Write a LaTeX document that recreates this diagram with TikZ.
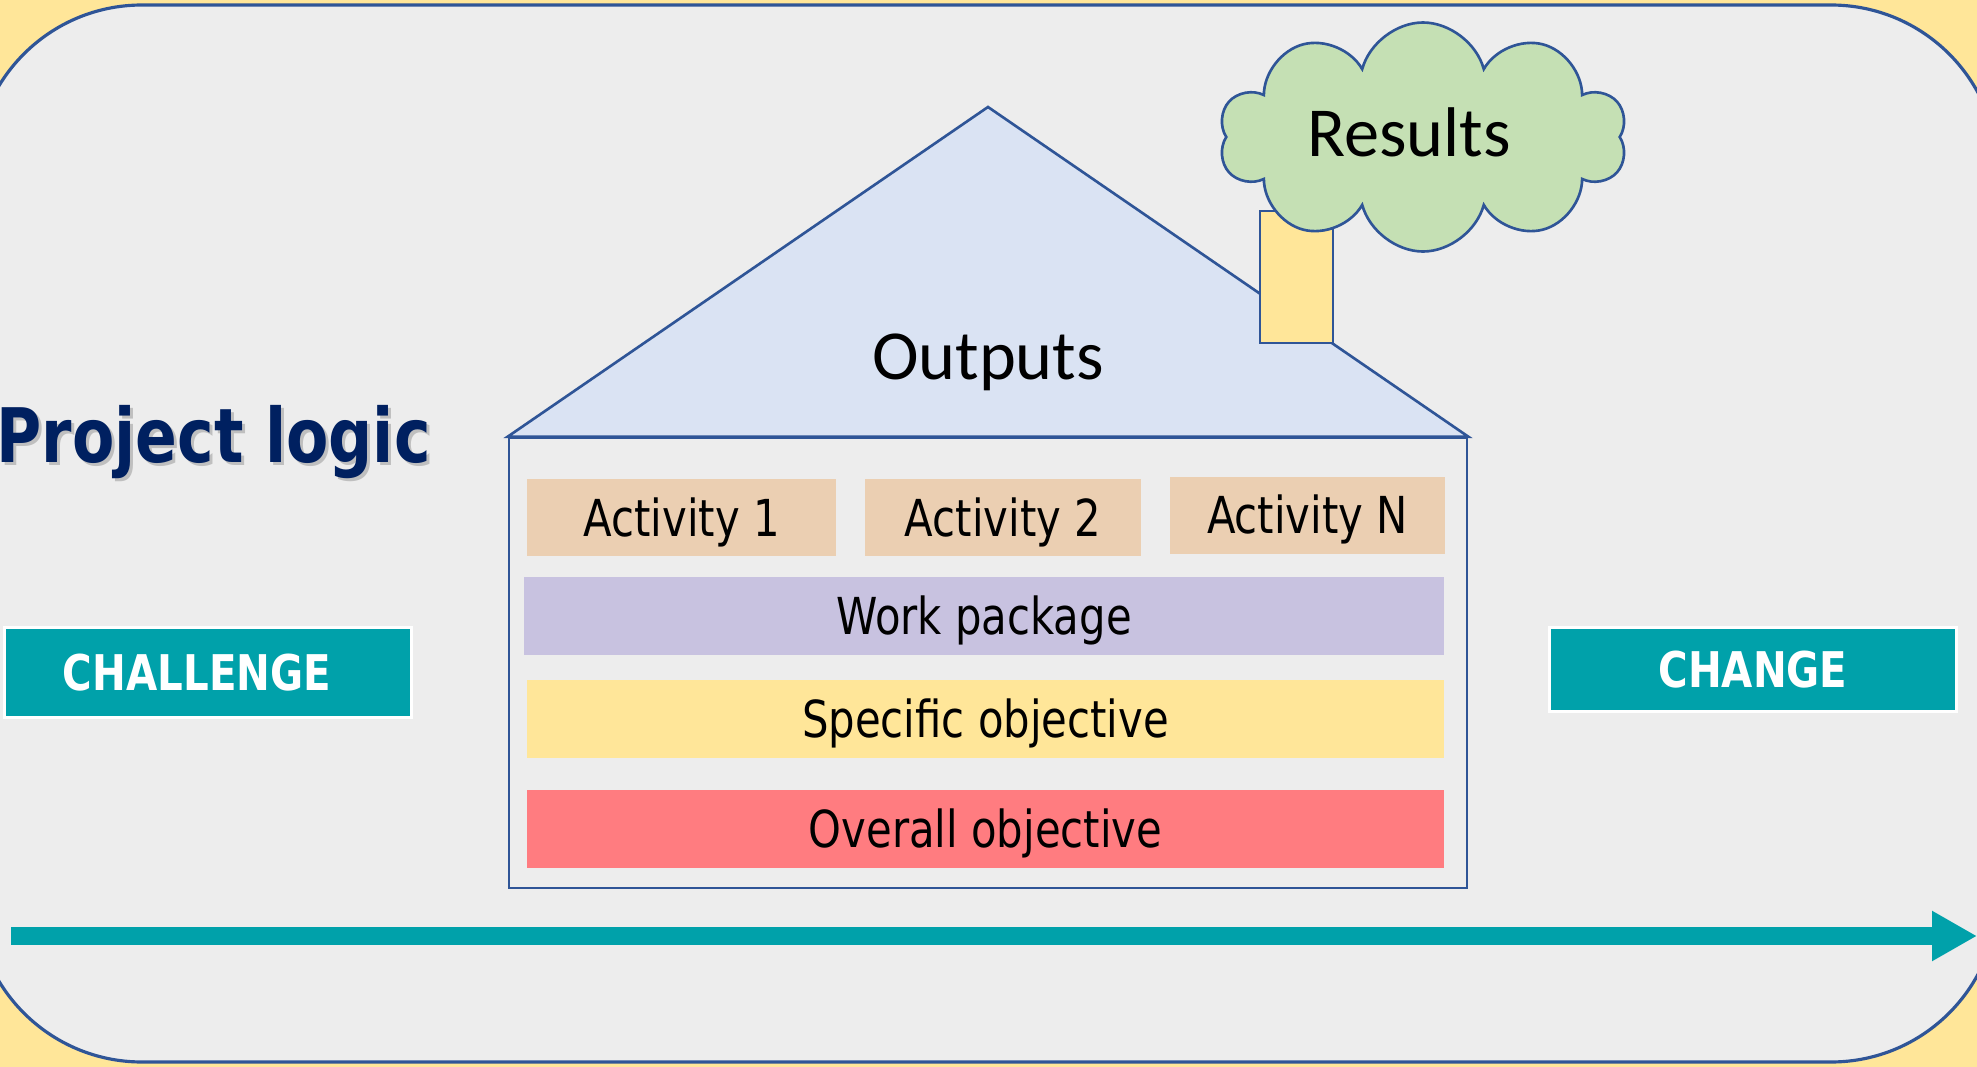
\documentclass[tikz,border=0pt]{standalone}
\usepackage{fontspec}
\setmainfont{DejaVu Sans}[FakeStretch=0.82]
\newfontfamily\calfont{Carlito}
\usepackage{tikz}
\usetikzlibrary{shapes.symbols,arrows.meta}

\definecolor{pageyel}{HTML}{FFE699}
\definecolor{panelgray}{HTML}{EDEDED}
\definecolor{lineblue}{HTML}{2F5597}
\definecolor{roofblue}{HTML}{DAE3F3}
\definecolor{cloudgreen}{HTML}{C5E0B4}
\definecolor{acttan}{HTML}{EBCFB2}
\definecolor{wplilac}{HTML}{C8C2E0}
\definecolor{oored}{HTML}{FF7C80}
\definecolor{tlteal}{HTML}{00A1AA}
\definecolor{titlenavy}{HTML}{002060}

\begin{document}
\begin{tikzpicture}[x=0.1mm,y=-0.1mm,
  outline/.style={draw=lineblue,line width=0.75pt},
  bar/.style n args={3}{fill=#1,minimum width=#2mm,minimum height=#3mm,inner sep=0pt,
    text height=10.6pt,text depth=0pt,font=\fontsize{14.5}{17}\selectfont},
  tealbox/.style n args={2}{fill=tlteal,draw=white,line width=0.77pt,text=white,
    minimum width=#1mm,minimum height=#2mm,inner sep=0pt,text height=10.2pt,text depth=0pt,
    font=\bfseries\fontsize{14}{17}\selectfont}]
\useasboundingbox (0,0) rectangle (1977,1067);
\clip (0,0) rectangle (1977,1067);
\fill[pageyel] (0,0) rectangle (1977,1067);
\draw[draw=lineblue,line width=0.9pt,fill=panelgray,rounded corners=16.7mm]
   (-25,5) rectangle (1998,1062);

% house
\node[outline,fill=panelgray,minimum width=95.8mm,minimum height=45mm,inner sep=0pt] (house) at (988,663) {};
\coordinate (apex) at (988,107);
\draw[outline,fill=roofblue] (house.north west) -- (apex) -- (house.north east) -- cycle;
\node[outline,fill=pageyel,minimum width=7.3mm,minimum height=13.2mm,inner sep=0pt] (chimney) at (1296.5,277) {};
\node[cloud,cloud puffs=10,aspect=1.8,outline,fill=cloudgreen,minimum width=40.8mm,minimum height=22.9mm,
   inner sep=0pt] (smoke) at (1423,137) {};
\node[anchor=base,inner sep=0pt,font=\calfont\fontsize{20}{24}\selectfont] (results) at (1409,156) {Results};
\node[anchor=base,inner sep=0pt,font=\calfont\fontsize{20}{24}\selectfont] (outputs) at (988,379) {Outputs};

% layers
\foreach \n/\x/\y/\w/\t in {1/681.5/517.5/30.9/Activity 1,2/1003/517.5/27.6/Activity 2,3/1307.5/515/27.5/Activity N} {
   \node[bar={acttan}{\w}{7.7}] (act\n) at (\x,\y) {\t};
}
\node[bar={wplilac}{92}{7.8}] (wp) at (984,616) {Work package};
\node[bar={pageyel}{91.7}{7.8}] (specobj) at (985.5,719) {Specific objective};
\node[bar={oored}{91.7}{7.8}] (overobj) at (985.5,829) {Overall objective};

% challenge -> change
\node[tealbox={40.7}{9.0}] (challenge) at (208,672.5) {CHALLENGE\kern2.2mm};
\node[tealbox={40.7}{8.4}] (change) at (1753,669.5) {CHANGE};
\coordinate (tlstart) at (11,936);
\coordinate (tlend) at (1977,936);
\draw[tlteal,line width=4.84pt,-{Triangle[length=12.8pt,width=13.4pt]}] (tlstart) -- (tlend);

% title
\node[anchor=base west,inner sep=0pt,text=black!25,font=\bfseries\fontsize{21.4}{25}\selectfont] (titleshadow) at (-1,465) {Project logic};
\node[anchor=base west,inner sep=0pt,text=titlenavy,font=\bfseries\fontsize{21.4}{25}\selectfont] (title) at (-4,462) {Project logic};
\end{tikzpicture}
\end{document}
